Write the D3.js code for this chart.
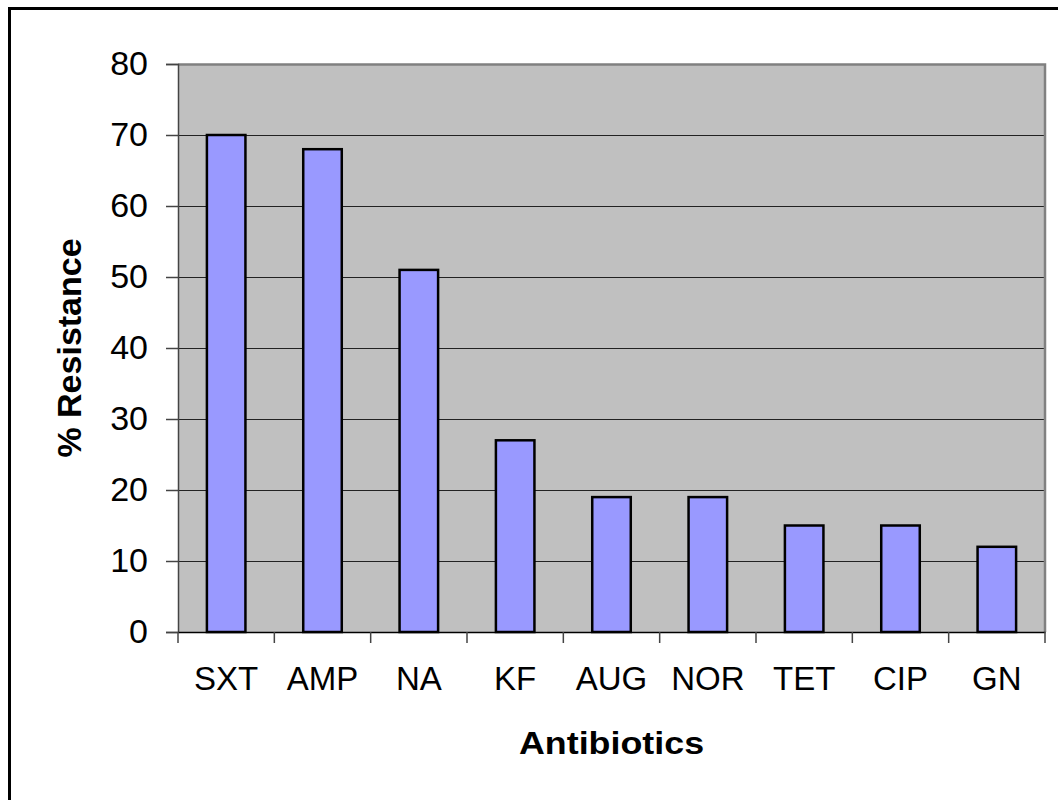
<!DOCTYPE html>
<html>
<head>
<meta charset="utf-8">
<script src="https://cdn.jsdelivr.net/npm/d3@7"></script>
<style>
  body { margin: 0; background: #fff; }
  svg { display: block; font-family: "Liberation Sans", Arial, sans-serif; }
</style>
</head>
<body>
<svg id="chart"></svg>
<script>
// chart data
const categories = ["SXT", "AMP", "NA", "KF", "AUG", "NOR", "TET", "CIP", "GN"];
const resistance = [70, 68, 51, 27, 19, 19, 15, 15, 12];
const yTicks = [0, 10, 20, 30, 40, 50, 60, 70, 80];

const dimen = { width: 1058, height: 800 };
const plot = { left: 178, top: 64, right: 1045, bottom: 632 };

const svg = d3.select("#chart")
  .attr("width", dimen.width)
  .attr("height", dimen.height);

// outer chart border (runs off right / bottom edge)
svg.append("rect")
  .attr("x", 9.5).attr("y", 8.5)
  .attr("width", 1100).attr("height", 900)
  .attr("fill", "#fff")
  .attr("stroke", "#000")
  .attr("stroke-width", 3);

const x = d3.scaleBand()
  .domain(categories)
  .range([plot.left, plot.right])
  .paddingInner(0.6)
  .paddingOuter(0.3);

// band used only for tick marks at category boundaries
const xCat = d3.scaleBand()
  .domain(categories)
  .range([plot.left, plot.right]);

const y = d3.scaleLinear()
  .domain([0, 80])
  .range([plot.bottom, plot.top]);

// plot area background
svg.append("rect")
  .attr("x", plot.left).attr("y", plot.top)
  .attr("width", plot.right - plot.left)
  .attr("height", plot.bottom - plot.top)
  .attr("fill", "#c0c0c0");

// gridlines
svg.append("g")
  .selectAll("line")
  .data(yTicks.filter(d => d > 0 && d < 80))
  .enter().append("line")
    .attr("x1", plot.left).attr("x2", plot.right)
    .attr("y1", d => Math.round(y(d)) + 0.5)
    .attr("y2", d => Math.round(y(d)) + 0.5)
    .attr("stroke", "#222")
    .attr("stroke-width", 1.2);

// plot border top/right (gray)
svg.append("path")
  .attr("d", `M${plot.left},${plot.top + 0.5}H${plot.right}V${plot.bottom}`)
  .attr("fill", "none")
  .attr("stroke", "#808080")
  .attr("stroke-width", 2.5);

// bars
svg.append("g")
  .selectAll("rect")
  .data(resistance)
  .enter().append("rect")
    .attr("x", (d, i) => x(categories[i]))
    .attr("y", d => y(d))
    .attr("width", x.bandwidth())
    .attr("height", d => y(0) - y(d))
    .attr("fill", "#9999ff")
    .attr("stroke", "#000")
    .attr("stroke-width", 2.5);

// y axis
const yAxis = svg.append("g")
  .attr("transform", `translate(${plot.left},0)`)
  .call(d3.axisLeft(y).tickValues(yTicks).tickSize(12).tickPadding(18));
yAxis.select(".domain").attr("stroke", "#444").attr("stroke-width", 1.5);
yAxis.selectAll(".tick line").attr("stroke", "#444").attr("stroke-width", 1.5);
yAxis.selectAll("text")
  .attr("font-size", 34)
  .attr("fill", "#000")
  .attr("font-family", "Liberation Sans, Arial, sans-serif");

// x axis
const xAxis = svg.append("g")
  .attr("transform", `translate(0,${plot.bottom})`)
  .call(d3.axisBottom(x).tickSize(0).tickPadding(35));
xAxis.select(".domain").attr("stroke", "#000").attr("stroke-width", 1.5);
xAxis.selectAll("text")
  .attr("font-size", 33)
  .attr("fill", "#000")
  .attr("font-family", "Liberation Sans, Arial, sans-serif");

// category boundary ticks
svg.append("g")
  .selectAll("line")
  .data(categories.concat(["end"]))
  .enter().append("line")
    .attr("x1", (d, i) => i < categories.length ? xCat(d) : plot.right)
    .attr("x2", (d, i) => i < categories.length ? xCat(d) : plot.right)
    .attr("y1", plot.bottom)
    .attr("y2", plot.bottom + 11)
    .attr("stroke", "#444")
    .attr("stroke-width", 1.5);

// axis titles
svg.append("text")
  .attr("transform", `translate(${(plot.left + plot.right) / 2}, 754) scale(1.12, 1)`)
  .attr("text-anchor", "middle")
  .attr("font-size", 32)
  .attr("font-weight", "bold")
  .text("Antibiotics");

svg.append("text")
  .attr("transform", `translate(81, ${(plot.top + plot.bottom) / 2}) rotate(-90)`)
  .attr("text-anchor", "middle")
  .attr("font-size", 34)
  .attr("font-weight", "bold")
  .text("% Resistance");
</script>
</body>
</html>
